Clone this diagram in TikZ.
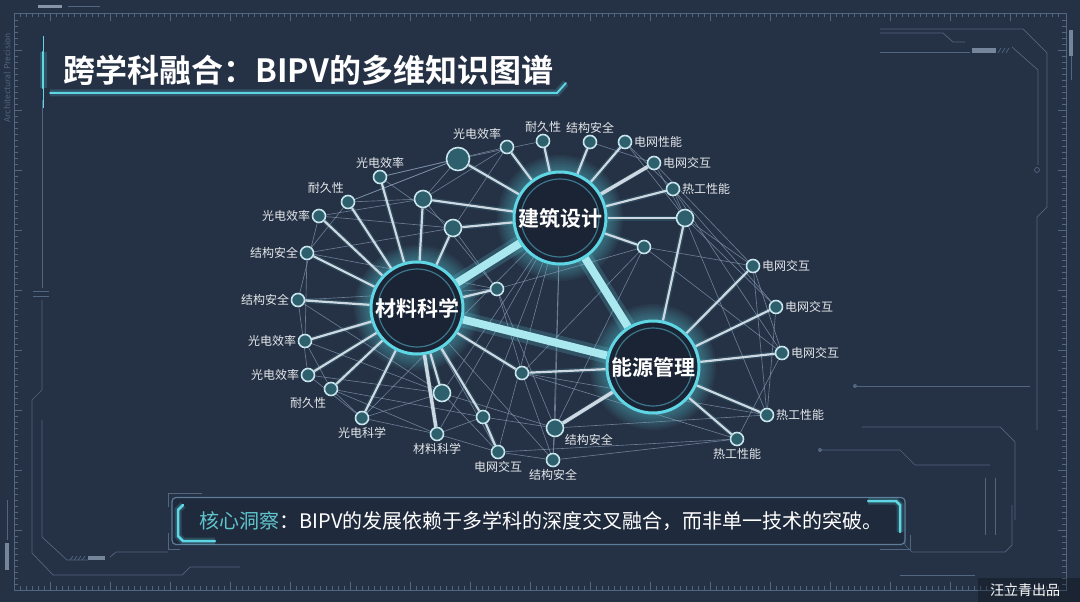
\documentclass[tikz,border=0pt]{standalone}
\usepackage{fontspec}
\setmainfont{Noto Sans CJK SC}[BoldFont={Noto Sans CJK SC Bold}]
\usepackage{xcolor}
\usetikzlibrary{positioning,calc}
\definecolor{BgNavy}{RGB}{37,49,68}
\definecolor{FrameLine}{RGB}{82,102,128}
\definecolor{GlowCyan}{RGB}{95,214,228}
\definecolor{LinkCyan}{RGB}{170,232,240}
\definecolor{SpokeGray}{RGB}{206,216,226}
\definecolor{MeshGray}{RGB}{135,156,182}
\definecolor{LeafTeal}{RGB}{45,96,108}
\definecolor{LeafRim}{RGB}{200,228,236}
\definecolor{HubFill}{RGB}{26,36,52}
\definecolor{HubInner}{RGB}{60,120,140}
\definecolor{LabelWhite}{RGB}{228,232,236}
\definecolor{InsightCyan}{RGB}{96,196,204}
\definecolor{BoxFill}{RGB}{31,42,60}
\definecolor{BoxEdge}{RGB}{92,124,152}
\pgfdeclarelayer{backdrop}
\pgfdeclarelayer{edges}
\pgfsetlayers{backdrop,edges,main}

\begin{document}
\begin{tikzpicture}[x=1pt, y=-1pt,
  leaf/.style={circle, draw=LeafRim, fill=LeafTeal, line width=1.6pt,
    minimum size=13pt, inner sep=0pt},
  bigleaf/.style={leaf, minimum size=17pt},
  hugeleaf/.style={leaf, minimum size=23pt},
  tag/.style={font=\fontsize{12}{12}\selectfont, text=LabelWhite, inner sep=1.5pt},
  hub/.style={circle, draw=GlowCyan, fill=HubFill, line width=3pt,
    minimum size=92pt, inner sep=0pt, text=white,
    font=\fontsize{21}{21}\selectfont\bfseries,
    path picture={\draw[HubInner, line width=1.2pt]
      (path picture bounding box.center) circle (39pt);}},
  spoke/.style={draw=SpokeGray, line width=2.2pt,
    preaction={draw=GlowCyan, line width=5pt, opacity=0.14}},
  thickspoke/.style={spoke, line width=3.5pt},
  mesh/.style={draw=MeshGray, line width=0.65pt, opacity=0.7},
  hublink/.style={draw=LinkCyan, line width=8pt,
    preaction={draw=GlowCyan, line width=16pt, opacity=0.2}},
  trace/.style={draw=FrameLine, line width=0.7pt},
  tick/.style={draw=FrameLine, line width=0.5pt},
  accent/.style={draw=GlowCyan, line width=2.5pt, line cap=round,
    preaction={draw=GlowCyan, line width=7pt, opacity=0.2}}]
\useasboundingbox (0,0) rectangle (1080,602);

% backdrop and frame
\begin{pgfonlayer}{backdrop}
\fill[BgNavy] (0,0) rectangle (1080,602);
\draw[FrameLine, line width=0.9pt] (14,13) rectangle (1066,590);
\foreach \x in {20,26,...,1060} {
  \draw[tick] (\x,13) -- (\x,17);
  \draw[tick] (\x,590) -- (\x,586);
}
\foreach \x in {50,110,...,1050} {
  \draw[tick] (\x,13) -- (\x,21);
  \draw[tick] (\x,590) -- (\x,582);
}
\foreach \y in {20,26,...,585} {
  \draw[tick] (14,\y) -- (18,\y);
  \draw[tick] (1066,\y) -- (1062,\y);
}
\foreach \y in {50,110,...,570} {
  \draw[tick] (14,\y) -- (22,\y);
  \draw[tick] (1066,\y) -- (1058,\y);
}
\fill[FrameLine!70!white] (38,5) rectangle (62,8);
\draw[trace] (68,6.5) -- (100,6.5);
\node[rotate=90, font=\fontsize{8.5}{8.5}\selectfont, text=FrameLine] (sidetext) at (7,78) {Architectural Precision};
% left traces
\draw[trace] (42,100) -- (42,288);
\draw[trace] (33,291) -- (49,291) (33,296) -- (49,296);
\draw[trace] (42,300) -- (42,390) -- (32,400) -- (32,553) -- (53,575) -- (182,575) -- (190,567) -- (240,567);
\draw[trace] (42,420) -- (42,537) -- (67,560) -- (88,560);
\fill[FrameLine!80!white] (88,556) rectangle (105,560);
\foreach \s in {70,74,78,82} \draw[trace] (\s,560) -- (\s+3,556);
\draw[trace] (110,557) -- (116,552) -- (168,552);
\fill[FrameLine!80!white] (5,543) rectangle (9,570);
\draw[trace] (7,500) -- (7,540);
% right traces
\draw[trace] (880,29) -- (1023,29) -- (1047,53) -- (1047,207) -- (1037,217) -- (1037,430);
\draw[trace] (880,33) -- (943,33) -- (953,42) -- (965,42);
\draw[trace] (880,52) -- (970,52);
\fill[FrameLine!80!white] (972,48) rectangle (996,53);
\foreach \s in {998,1002,1006} \draw[trace] (\s,53) -- (\s+3,48);
\draw[trace] (1012,47) -- (1038,70) -- (1038,165);
\draw[trace] (1037,170) circle (2.5pt);
\fill[FrameLine!80!white] (1069,30) rectangle (1073,56);
\draw[trace] (1071,56) -- (1071,80);
\draw[trace] (855,386) -- (1030,386);
\fill[FrameLine] (855,386) circle (2pt);
\draw[trace] (862,427) -- (1000,427) -- (1015,442) -- (1015,520);
\draw[trace] (820,450) -- (900,450) -- (915,465) -- (990,465);
\fill[FrameLine] (820,450) circle (2pt);
\draw[trace] (905,500) -- (905,545) -- (912,552) -- (1005,552) -- (1012,545) -- (1012,505);
\draw[trace] (985,478) -- (985,535) (995,478) -- (995,535);
\draw[trace] (900,575) -- (975,575);
\fill[black, opacity=0.25] (978,578) rectangle (1080,602);
\end{pgfonlayer}

% title
\draw[accent] (43,52) -- (43,88);
\draw[GlowCyan, line width=0.6pt] (43,36) -- (43,108);
\draw[accent, line width=2pt] (50,93) -- (557,93) -- (566,83);
\node[anchor=west, font=\fontsize{32}{32}\selectfont\bfseries, text=white] (title) at (60,70) {跨学科融合：BIPV的多维知识图谱};

% hubs
\node[hub] (mat) at (417,308) {材料科学};
\node[hub] (arch) at (560,218) {建筑设计};
\node[hub] (ener) at (653,367) {能源管理};

% material side leaves
\node[leaf, label={[tag]above:光电效率}] (m1) at (380,177) {};
\node[leaf, label={[tag]110:耐久性}] (m2) at (348,202) {};
\node[leaf, label={[tag]left:光电效率}] (m3) at (319,216) {};
\node[leaf, label={[tag]left:结构安全}] (m4) at (307,253) {};
\node[leaf, label={[tag]left:结构安全}] (m5) at (298,300) {};
\node[leaf, label={[tag]left:光电效率}] (m6) at (305,341) {};
\node[leaf, label={[tag]left:光电效率}] (m7) at (308,375) {};
\node[leaf, label={[tag]245:耐久性}] (m8) at (331,389) {};
\node[leaf, label={[tag]below:光电科学}] (m9) at (362,418) {};
\node[leaf, label={[tag]below:材料科学}] (m10) at (437,434) {};
\node[bigleaf] (x1) at (423,199) {};
\node[bigleaf] (x2) at (453,228) {};
\node[leaf] (x3) at (497,289) {};
\node[bigleaf] (x4) at (442,393) {};
\node[leaf] (x5) at (483,417) {};
\node[leaf, label={[tag]below:电网交互}] (x6) at (498,452) {};
\node[leaf] (x7) at (522,373) {};

% architecture side leaves
\node[hugeleaf] (a0) at (458,159) {};
\node[leaf, label={[tag]125:光电效率}] (a1) at (507,147) {};
\node[leaf, label={[tag]above:耐久性}] (a2) at (543,141) {};
\node[leaf, label={[tag]above:结构安全}] (a3) at (590,142) {};
\node[leaf, label={[tag]right:电网性能}] (a4) at (625,142) {};
\node[leaf, label={[tag]right:电网交互}] (a5) at (654,163) {};
\node[leaf, label={[tag]right:热工性能}] (a6) at (673,189) {};
\node[bigleaf] (a7) at (685,218) {};
\node[leaf] (a8) at (644,247) {};

% energy side leaves
\node[leaf, label={[tag]right:电网交互}] (e1) at (753,266) {};
\node[leaf, label={[tag]right:电网交互}] (e2) at (776,307) {};
\node[leaf, label={[tag]right:电网交互}] (e3) at (782,353) {};
\node[leaf, label={[tag]right:热工性能}] (e4) at (767,415) {};
\node[leaf, label={[tag]below:热工性能}] (e5) at (737,439) {};
\node[bigleaf, label={[tag]-30:结构安全}] (e6) at (555,428) {};
\node[leaf, label={[tag]below:结构安全}] (e7) at (553,460) {};

% connectors
\begin{pgfonlayer}{edges}
\foreach \h in {mat,arch,ener}
  \foreach \r in {47,49,...,63}
    \fill[GlowCyan, opacity=0.055] (\h) circle (\r pt);
\foreach \a/\b in {a0/m1, a0/x1, a0/m2, a1/x1, a1/x2, m1/x2, m2/x1, m3/x1,
    m3/m5, m4/x2, m2/m4, m4/m6, m5/x3, m6/x3, m5/m7, m6/m8, m7/x4, m8/m9,
    m9/x4, m8/x5, m9/m10, m10/x5, m10/x6, x4/x6, x5/x6, x5/e6, x4/e6,
    x6/e7, e7/e6, e7/e5, x6/e5, e6/e4, x7/e5, x7/e4, x3/x7, x3/a8, a8/x7,
    a8/e1, a8/e3, a7/e1, a7/e2, a6/a7, a5/a7, a4/a6, a6/e2, a6/e3, a3/a5,
    e1/e3, e2/e4, e3/e5, e1/e4, arch/m10, arch/x4, arch/x5, arch/e7,
    arch/m9, arch/x6, arch/e6, mat/e7, mat/x6, a2/a0, m7/m9,
    m1/a1, m2/a0, m3/x2, m4/x3, m5/x4, m6/x4, x3/e6, x2/x3, a8/e6,
    a7/e4, a5/e1, a4/a7, m8/m10, x7/e7, x1/x3}
  \draw[mesh] (\a) -- (\b);
\foreach \l in {m1,m2,m3,m4,m5,m6,m7,m8,m9,x1,x2,x3,x4,x5,x7}
  \draw[spoke] (mat) -- (\l);
\foreach \l in {a0,a1,a2,a3,a4,a6,a7,a8,x1,x2}
  \draw[spoke] (arch) -- (\l);
\foreach \l in {e1,e2,e3,e4,e5,x7,a7}
  \draw[spoke] (ener) -- (\l);
\draw[thickspoke] (mat) -- (m10);
\draw[thickspoke] (arch) -- (a5);
\draw[thickspoke] (ener) -- (e6);
\draw[spoke] (x5) -- (x6);
\draw[hublink] (mat) -- (arch);
\draw[hublink] (mat) -- (ener);
\draw[hublink] (arch) -- (ener);
\end{pgfonlayer}

% insight box
\node[draw=BoxEdge, fill=BoxFill, line width=1.2pt, rounded corners=4pt,
      minimum width=733pt, minimum height=47pt] (insight) at (538.5,521) {};
\draw[accent] (183,505) -- (178,510) -- (178,536) -- (183,541) -- (215,541);
\draw[accent] (868,501) -- (896,501) -- (900,505) -- (900,532);
\draw[trace] (202,493) -- (168,493) -- (168,507);
\draw[trace] (168,533) -- (168,549) -- (180,549);
\draw[trace] (880,549) -- (910,549) -- (910,535);
\node[anchor=west, font=\fontsize{20}{20}\selectfont, text=white] (insighttext) at (196,521)
  {\textcolor{InsightCyan}{核心洞察}：BIPV的发展依赖于多学科的深度交叉融合，而非单一技术的突破。};

% credit
\node[font=\fontsize{14}{14}\selectfont, text=white] (credit) at (1025,590) {汪立青出品};
\end{tikzpicture}
\end{document}
